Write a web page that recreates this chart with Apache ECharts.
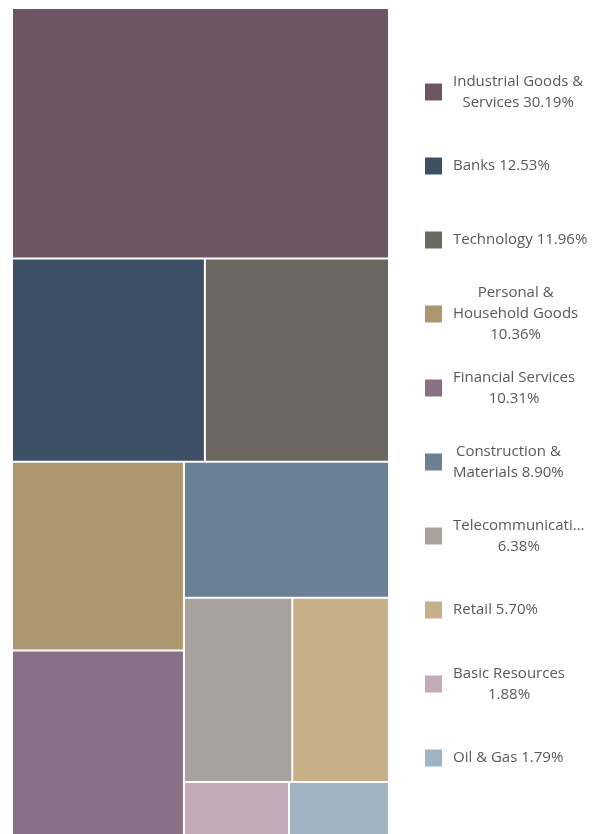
<!DOCTYPE html>
<html>
<head>
<meta charset="utf-8">
<script src="https://cdn.jsdelivr.net/npm/echarts@6/dist/echarts.min.js"></script>
<style>
html,body{margin:0;padding:0;background:#fff;}
#chart{width:595px;height:834px;}
</style>
</head>
<body>
<div id="chart"></div>
<script>
const names = ['Industrial Goods & Services', 'Banks', 'Technology', 'Personal & Household Goods', 'Financial Services', 'Construction & Materials', 'Telecommunications', 'Retail', 'Basic Resources', 'Oil & Gas'];
const values = [30.19, 12.53, 11.96, 10.36, 10.31, 8.90, 6.38, 5.70, 1.88, 1.79];
const colors = ['#6e5563', '#3d5066', '#6b6862', '#ad976e', '#8a7084', '#6a8094', '#a9a29c', '#c7b087', '#c2aab8', '#9eb4c4'];

const FONT_SIZE = 15;
const FONT_FAMILY = 'Open Sans';
const WRAP_W = 140;
const LINE_H = 21;

const mctx = document.createElement('canvas').getContext('2d');
mctx.font = FONT_SIZE + 'px "' + FONT_FAMILY + '"';
function mw(s) { return mctx.measureText(s).width; }
function truncWord(w, maxW) {
  if (mw(w) <= maxW) return w;
  let s = w;
  while (s.length > 1 && mw(s + '...') > maxW) s = s.slice(0, -1);
  return s + '...';
}
function wrap(text, maxW) {
  const words = text.split(' ');
  const lines = [];
  let cur = '';
  words.forEach(function (w0) {
    const w = truncWord(w0, maxW);
    const test = cur ? cur + ' ' + w : w;
    if (mw(test) <= maxW) { cur = test; }
    else { if (cur) lines.push(cur); cur = w; }
  });
  if (cur) lines.push(cur);
  return lines;
}

const legendLines = {};
names.forEach(function (n, i) {
  legendLines[n] = wrap(n + ' ' + values[i].toFixed(2) + '%', WRAP_W);
});

const chart = echarts.init(document.getElementById('chart'), null, { renderer: 'canvas' });
chart.setOption({
  animation: false,
  legend: {
    orient: 'vertical',
    left: 425,
    top: 60.5,
    padding: 0,
    itemGap: 11,
    itemWidth: 17,
    itemHeight: 17,
    icon: 'rect',
    selectedMode: false,
    data: names.map(function (n) {
      const p = (3 - legendLines[n].length) * LINE_H / 2;
      return { name: n, textStyle: { padding: [p, 0, p, 6] } };
    }),
    formatter: function (name) {
      return legendLines[name].map(function (l) { return '{c|' + l + '}'; }).join('\n');
    },
    textStyle: {
      color: '#595959',
      fontSize: FONT_SIZE,
      fontFamily: FONT_FAMILY,
      lineHeight: LINE_H,
      rich: {
        c: { align: 'center', color: '#595959', fontSize: FONT_SIZE, fontFamily: FONT_FAMILY, lineHeight: LINE_H }
      }
    }
  },
  series: [
    {
      type: 'treemap',
      left: 13,
      top: 9,
      width: 375,
      height: 828,
      roam: false,
      nodeClick: false,
      breadcrumb: { show: false },
      label: { show: false },
      upperLabel: { show: false },
      squareRatio: 1,
      itemStyle: { borderWidth: 0, gapWidth: 2, borderColor: '#fff' },
      levels: [{ itemStyle: { borderWidth: 0, gapWidth: 2, borderColor: '#fff' } }],
      data: names.map(function (n, i) {
        return { name: n, value: values[i], itemStyle: { color: colors[i] } };
      })
    },
    {
      type: 'pie',
      silent: true,
      radius: [0, 0],
      center: [-200, -200],
      label: { show: false },
      labelLine: { show: false },
      data: names.map(function (n, i) {
        return { name: n, value: values[i], itemStyle: { color: colors[i] } };
      })
    }
  ]
});
</script>
</body>
</html>
